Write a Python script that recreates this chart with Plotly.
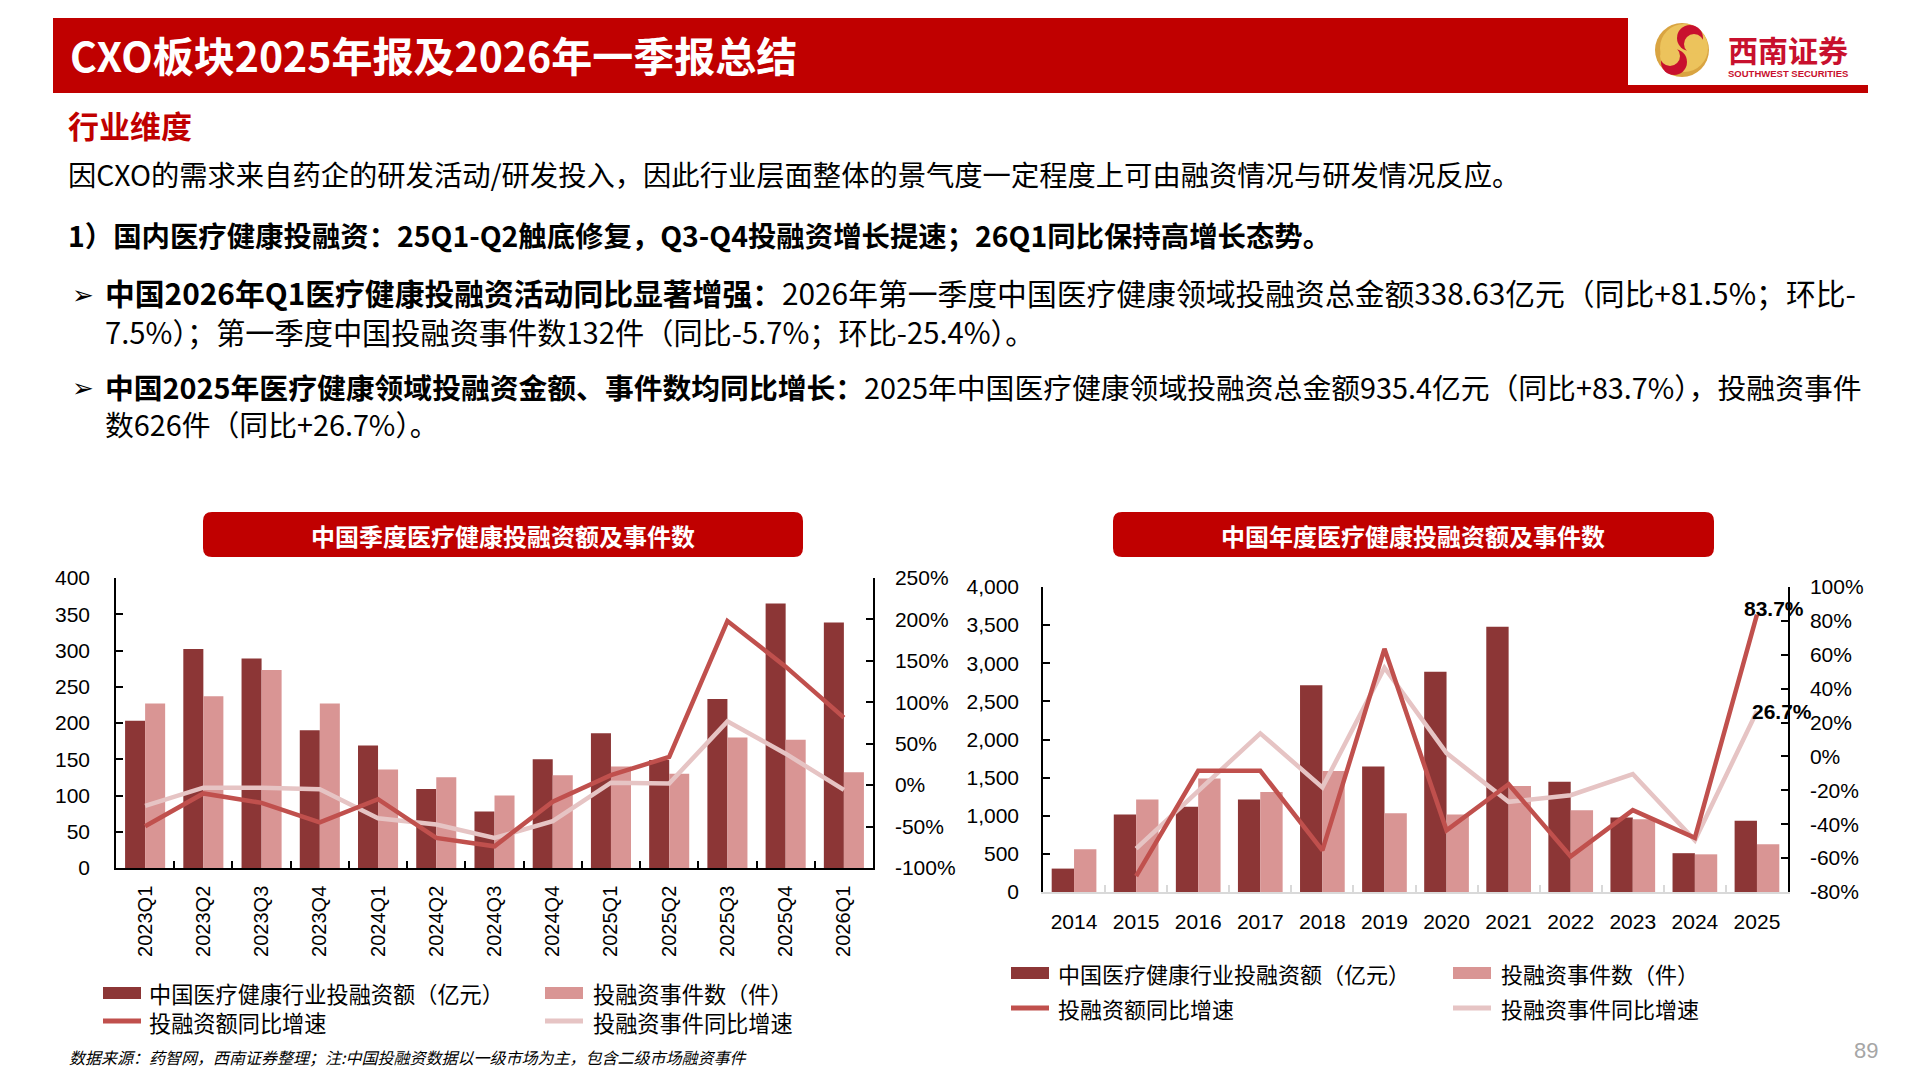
import plotly.graph_objects as go

W, H = 1920, 1080
def px(x): return x / W
def py(y): return 1 - y / H

# ---------------- data ----------------
quarters = ["2023Q1", "2023Q2", "2023Q3", "2023Q4", "2024Q1", "2024Q2", "2024Q3",
            "2024Q4", "2025Q1", "2025Q2", "2025Q3", "2025Q4", "2026Q1"]
q_amount = [203, 302, 289, 190, 169, 109, 78, 150, 186, 149, 233, 365, 338.63]
q_events = [227, 237, 273, 227, 136, 125, 100, 128, 140, 130, 180, 177, 132]
q_amount_yoy = [-49.6, -10, -21.4, -45, -17, -63.7, -73.8, -20, 12, 34, 198, 143, 81.5]
q_events_yoy = [-25, -3, -3, -5, -40, -47.6, -63.7, -43.5, 3, 2, 77, 38, -5.7]

years = ["2014", "2015", "2016", "2017", "2018", "2019", "2020", "2021", "2022", "2023", "2024", "2025"]
y_amount = [307, 1016, 1117, 1214, 2712, 1647, 2887, 3479, 1446, 977, 509, 935.4]
y_events = [561, 1214, 1490, 1310, 1586, 1034, 1016, 1389, 1073, 955, 494, 626]
y_amount_yoy = [None, -70.6, -8.5, -8.5, -55.4, 63.5, -43.6, -16.4, -59, -31.7, -48, 83.7]
y_events_yoy = [None, -54.4, -20, 13.6, -18.3, 52.4, 2, -26.8, -22.9, -10.4, -49.5, 26.7]

left_y_ticks = [0, 50, 100, 150, 200, 250, 300, 350, 400]
left_y2_ticks = [-100, -50, 0, 50, 100, 150, 200, 250]
right_y_ticks = [0, 500, 1000, 1500, 2000, 2500, 3000, 3500, 4000]
right_y2_ticks = [-80, -60, -40, -20, 0, 20, 40, 60, 80, 100]

legend_labels = ["中国医疗健康行业投融资额（亿元）", "投融资事件数（件）", "投融资额同比增速", "投融资事件同比增速"]

# ---------------- styles ----------------
DARK = "#8c3636"
LBAR = "#d99594"
RED = "#c0504d"
PINK = "#e6c4c4"
HDR = "#c00000"
CJK = "Noto Sans CJK SC"
NUM = "Liberation Sans, Arial, sans-serif"

fig = go.Figure()

# left chart
fig.add_trace(go.Bar(x=quarters, y=q_amount, xaxis="x", yaxis="y", marker_color=DARK,
                     marker_line_width=0, width=0.344, offset=-0.344, name=legend_labels[0]))
fig.add_trace(go.Bar(x=quarters, y=q_events, xaxis="x", yaxis="y", marker_color=LBAR,
                     marker_line_width=0, width=0.344, offset=0, name=legend_labels[1]))
fig.add_trace(go.Scatter(x=quarters, y=q_events_yoy, xaxis="x", yaxis="y2", mode="lines",
                         line=dict(color=PINK, width=4.5), name=legend_labels[3]))
fig.add_trace(go.Scatter(x=quarters, y=q_amount_yoy, xaxis="x", yaxis="y2", mode="lines",
                         line=dict(color=RED, width=4.5), name=legend_labels[2]))

# right chart
fig.add_trace(go.Bar(x=years, y=y_amount, xaxis="x2", yaxis="y3", marker_color=DARK,
                     marker_line_width=0, width=0.36, offset=-0.36, name=legend_labels[0]))
fig.add_trace(go.Bar(x=years, y=y_events, xaxis="x2", yaxis="y3", marker_color=LBAR,
                     marker_line_width=0, width=0.36, offset=0, name=legend_labels[1]))
fig.add_trace(go.Scatter(x=years, y=y_events_yoy, xaxis="x2", yaxis="y4", mode="lines",
                         line=dict(color=PINK, width=4.5), name=legend_labels[3]))
fig.add_trace(go.Scatter(x=years, y=y_amount_yoy, xaxis="x2", yaxis="y4", mode="lines",
                         line=dict(color=RED, width=4.5), name=legend_labels[2]))

tickfont = dict(family=NUM, size=21, color="#000")

def pct(v):
    return f"{v}%" if v >= 0 else f"-{abs(v)}%"

common = dict(showgrid=False, zeroline=False, automargin=False, showline=True, linewidth=1.5,
              ticks="inside", ticklen=7, tickwidth=1.5)

fig.update_layout(
    template="none",
    width=W, height=H, autosize=False,
    margin=dict(l=0, r=0, t=0, b=0, pad=0, autoexpand=False),
    paper_bgcolor="white", plot_bgcolor="rgba(0,0,0,0)",
    showlegend=False, barmode="overlay",
    xaxis=dict(domain=[px(116), px(873)], anchor="y", type="category", range=[-0.5, 12.5],
               linecolor="#000", tickson="boundaries", tickcolor="#000", tickangle=-90,
               tickfont=dict(family=NUM, size=20, color="#000"), ticklabelstandoff=8, **common),
    yaxis=dict(domain=[py(868), py(578)], anchor="x", range=[0, 400], tickvals=left_y_ticks,
               ticktext=[str(v) for v in left_y_ticks], linecolor="#000", tickcolor="#000",
               tickfont=tickfont, ticklabelstandoff=20, **common),
    yaxis2=dict(overlaying="y", anchor="x", side="right", range=[-100, 250], tickvals=left_y2_ticks,
                ticktext=[pct(v) for v in left_y2_ticks], linecolor="#000", tickcolor="#000",
                tickfont=tickfont, ticklabelstandoff=16, **common),
    xaxis2=dict(domain=[px(1043), px(1788)], anchor="y3", type="category", range=[-0.5, 11.5],
                linecolor="#d9d9d9", tickson="boundaries", tickcolor="#d9d9d9",
                tickfont=tickfont, ticklabelstandoff=10, **common),
    yaxis3=dict(domain=[py(892), py(587)], anchor="x2", range=[0, 4000], tickvals=right_y_ticks,
                ticktext=[f"{v:,}" for v in right_y_ticks], linecolor="#000", tickcolor="#000",
                tickfont=tickfont, ticklabelstandoff=18, **common),
    yaxis4=dict(overlaying="y3", anchor="x2", side="right", range=[-80, 100], tickvals=right_y2_ticks,
                ticktext=[pct(v) for v in right_y2_ticks], linecolor="#000", tickcolor="#000",
                tickfont=tickfont, ticklabelstandoff=16, **common),
)

shapes = []
annotations = []

def rect(x0, y0, x1, y1, color, layer="above"):
    shapes.append(dict(type="rect", xref="paper", yref="paper", x0=px(x0), x1=px(x1),
                       y0=py(y1), y1=py(y0), fillcolor=color, line=dict(width=0), layer=layer))

def circle(cx, cy, r, color):
    shapes.append(dict(type="circle", xref="paper", yref="paper", x0=px(cx - r), x1=px(cx + r),
                       y0=py(cy + r), y1=py(cy - r), fillcolor=color, line=dict(width=0)))

def rrect(x0, y0, x1, y1, r, color):
    X = lambda v: f"{px(v):.6f}"
    Y = lambda v: f"{py(v):.6f}"
    path = (f"M {X(x0+r)},{Y(y0)} L {X(x1-r)},{Y(y0)} Q {X(x1)},{Y(y0)} {X(x1)},{Y(y0+r)} "
            f"L {X(x1)},{Y(y1-r)} Q {X(x1)},{Y(y1)} {X(x1-r)},{Y(y1)} L {X(x0+r)},{Y(y1)} "
            f"Q {X(x0)},{Y(y1)} {X(x0)},{Y(y1-r)} L {X(x0)},{Y(y0+r)} Q {X(x0)},{Y(y0)} {X(x0+r)},{Y(y0)} Z")
    shapes.append(dict(type="path", xref="paper", yref="paper", path=path, fillcolor=color,
                       line=dict(width=0), layer="above"))

def text(x, y, s, size, color="#000", family=CJK, xanchor="left", yanchor="middle"):
    annotations.append(dict(xref="paper", yref="paper", x=px(x), y=py(y), text=s, showarrow=False,
                            xanchor=xanchor, yanchor=yanchor, align="left",
                            font=dict(family=family, size=size, color=color)))

# header
rect(53, 18, 1628, 93, HDR)
rect(1628, 85, 1868, 93, HDR)
text(68, 54, "<b>CXO板块2025年报及2026年一季报总结</b>", 41, "white")
# logo
circle(1682, 50, 27, "#d9a441")
circle(1684, 48, 24, "#ecc35c")
circle(1690, 38, 13, "#c8102e")
circle(1694, 44, 10, "#ecc35c")
circle(1674, 62, 13, "#c8102e")
circle(1670, 56, 10, "#ecc35c")
text(1788, 49, "<b>西南证券</b>", 30, "#c8102e", xanchor="center")
text(1788, 73, "<b>SOUTHWEST SECURITIES</b>", 9.5, "#c8102e", family=NUM, xanchor="center")

# body text
text(66, 125, "<b>行业维度</b>", 31, HDR)
text(66, 173, "因CXO的需求来自药企的研发活动/研发投入，因此行业层面整体的景气度一定程度上可由融资情况与研发情况反应。", 28.3)
text(66, 234, "<b>1）国内医疗健康投融资：25Q1-Q2触底修复，Q3-Q4投融资增长提速；26Q1同比保持高增长态势。</b>", 28.4)
text(70, 295, "➢", 26, family="DejaVu Sans")
text(103, 311,
     "<b>中国2026年Q1医疗健康投融资活动同比显著增强：</b>2026年第一季度中国医疗健康领域投融资总金额338.63亿元（同比+81.5%；环比-<br>"
     "<span style='font-size:29.2px'>7.5%）；第一季度中国投融资事件数132件（同比-5.7%；环比-25.4%）。</span>", 29.8)
text(70, 388, "➢", 26, family="DejaVu Sans")
text(103, 405,
     "<b>中国2025年医疗健康领域投融资金额、事件数均同比增长：</b>2025年中国医疗健康领域投融资总金额935.4亿元（同比+83.7%），投融资事件<br>"
     "数626件（同比+26.7%）。", 28.8)

# chart title boxes
rrect(203, 512, 803, 557, 9, HDR)
text(503, 535, "<b>中国季度医疗健康投融资额及事件数</b>", 24, "white", xanchor="center")
rrect(1113, 512, 1714, 557, 9, HDR)
text(1413, 535, "<b>中国年度医疗健康投融资额及事件数</b>", 24, "white", xanchor="center")

# legends
def legend_block(xs, tx, rows, size, combined):
    (r1, r2) = rows
    rect(xs[0], r1 - 6, xs[0] + 38, r1 + 6, DARK)
    rect(xs[1], r1 - 6, xs[1] + 38, r1 + 6, LBAR)
    rect(xs[0], r2 - 2.5, xs[0] + 38, r2 + 2.5, RED)
    rect(xs[1], r2 - 2.5, xs[1] + 38, r2 + 2.5, PINK)
    if combined:
        mid = (r1 + r2) / 2
        text(tx[0], mid, legend_labels[0] + "<br>" + legend_labels[2], size)
        text(tx[1], mid, legend_labels[1] + "<br>" + legend_labels[3], size)
    else:
        text(tx[0], r1, legend_labels[0], size)
        text(tx[1], r1, legend_labels[1], size)
        text(tx[0], r2, legend_labels[2], size)
        text(tx[1], r2, legend_labels[3], size)

legend_block((103, 545), (147, 591), (993, 1021), 22.2, True)
legend_block((1011, 1453), (1056, 1499), (973, 1008), 22, False)

# footer
annotations.append(dict(xref="paper", yref="paper", x=px(67), y=py(1057),
                        text="<i>数据来源：药智网，西南证券整理；注:中国投融资数据以一级市场为主，包含二级市场融资事件</i>",
                        showarrow=False, xanchor="left", yanchor="middle",
                        font=dict(family=CJK, size=16, color="#000")))
text(1866, 1050, "89", 22, "#a6a6a6", family=NUM, xanchor="center")

# data labels (category index positions on the annual axis)
last = len(years) - 1
annotations.append(dict(xref="x2", yref="y4", x=last, y=y_amount_yoy[-1], text="<b>83.7%</b>",
                        showarrow=False, xshift=17, yshift=6,
                        font=dict(family=NUM, size=21, color="#000")))
annotations.append(dict(xref="x2", yref="y4", x=last, y=y_events_yoy[-1], text="<b>26.7%</b>",
                        showarrow=False, xshift=25, yshift=0,
                        font=dict(family=NUM, size=21, color="#000")))

fig.update_layout(shapes=shapes, annotations=annotations)
fig.write_html("out.html", config={"responsive": False})
